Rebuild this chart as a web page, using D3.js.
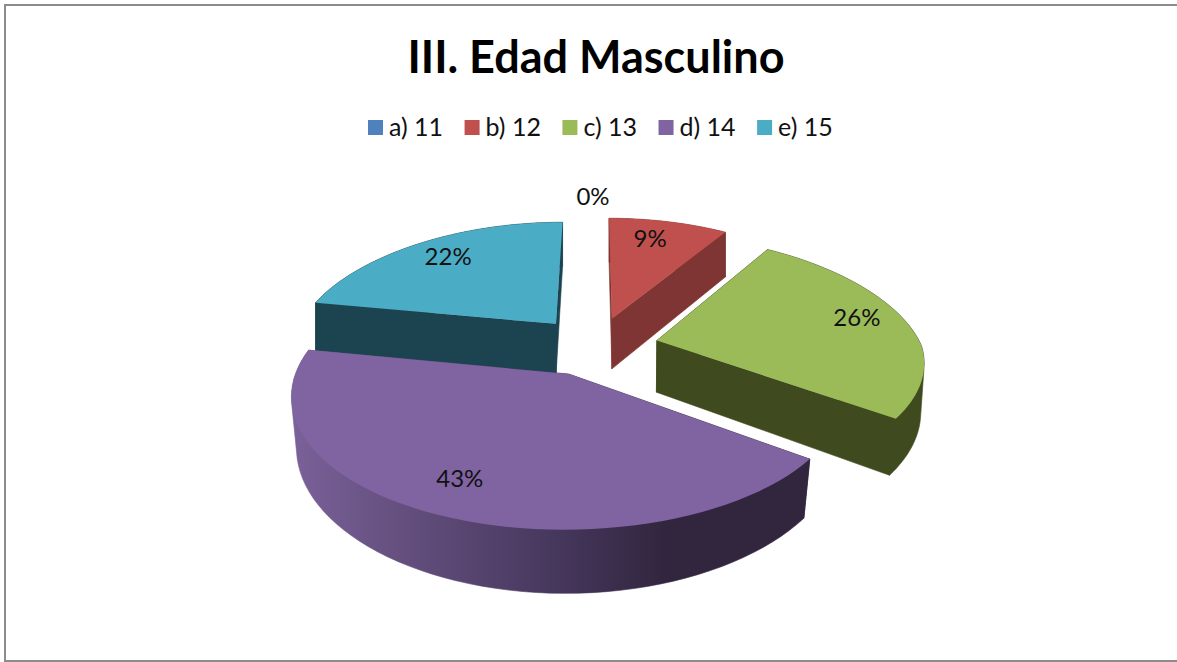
<!DOCTYPE html>
<html><head><meta charset="utf-8">
<script src="https://cdnjs.cloudflare.com/ajax/libs/d3/7.8.5/d3.min.js"></script>
<style>html,body{margin:0;padding:0;background:#fff;overflow:hidden}svg{display:block}text{font-family:Lato,sans-serif;fill:#111}</style>
</head><body><svg id="c" width="1177" height="662"></svg>
<script>
const chartTitle = "III. Edad Masculino";
const categories = ["a) 11","b) 12","c) 13","d) 14","e) 15"];
const values = [0,9,26,43,22];
const topColors = ["#4f81bd","#c0504d","#9bbb59","#8064a2","#4bacc6"];
const sideColors = ["#2a4568","#7f3533","#3f4a1f","url(#purpleSide)","#1c4450"];

const W=1177,H=662;
const labelNudge=[[-2,0],[-7,-3],[9,-5],[-12,1],[0,-3]];
const svg=d3.select("#c");
const cx=595,cy=346,A=264.5,B=123,k=0.15,depth=52,explode=0.24;
const wScale=Y=>1/(1-k*Y);
const project=(X,Y,drop=0)=>{
  const w=wScale(Y);
  const farNarrow=1+0.047*Math.min(Y,0);
  const lowerNarrow=1-0.025*(drop/depth)*Math.max(Y+0.3,0);
  return [cx+A*X*w*farNarrow*lowerNarrow, cy+B*Y*w+drop*w];
};

// frame
svg.append("rect").attr("x",5).attr("y",5).attr("width",W+10).attr("height",H-5.5-0.5)
  .attr("fill","#fff").attr("stroke","#8c8c8c").attr("stroke-width",2);

// gradient for purple rim
const g=svg.append("defs").append("linearGradient").attr("id","purpleSide")
  .attr("gradientUnits","userSpaceOnUse").attr("x1",293).attr("x2",808).attr("y1",0).attr("y2",0);
[[0,"#7a6199"],[0.2,"#65507f"],[0.5,"#47385e"],[0.72,"#32263f"],[1,"#32263f"]]
  .forEach(s=>g.append("stop").attr("offset",s[0]).attr("stop-color",s[1]));

svg.append("text").attr("x",596).attr("y",73).attr("text-anchor","middle")
  .attr("font-size",45).attr("font-weight",700).style("fill","#000").text(chartTitle);

// legend
const legend=svg.append("g");
let lx=368;
categories.forEach((c,i)=>{
  legend.append("rect").attr("x",lx).attr("y",120).attr("width",15).attr("height",15).attr("fill",topColors[i]);
  const t=legend.append("text").attr("x",lx+21).attr("y",136).attr("font-size",25).text(c);
  lx+=21+t.node().getComputedTextLength()+21.5;
});

const arcs=d3.pie().sort(null).startAngle(0).endAngle(2*Math.PI)(values);
const line=d3.line();
const sampleAngles=(a,b)=>d3.range(0,61).map(i=>a+(b-a)*i/60);

function sliceGeom(d){
  const m=(d.startAngle+d.endAngle)/2;
  const ox=explode*Math.sin(m), oy=-explode*Math.cos(m);
  const pt=(th,r=1)=>[ox+r*Math.sin(th), oy-r*Math.cos(th)];
  return {m,ox,oy,pt};
}
const drawOrder=[4,1,2,3];
const pieG=svg.append("g");
drawOrder.forEach(i=>{
  const d=arcs[i];
  const {ox,oy,pt}=sliceGeom(d);
  const rimPts=sampleAngles(d.startAngle,d.endAngle).map(t=>pt(t));
  const apex=[ox,oy];
  const top=[apex,...rimPts].map(p=>project(p[0],p[1]));
  const wall=(p)=>[project(apex[0],apex[1]),project(p[0],p[1]),project(p[0],p[1],depth),project(apex[0],apex[1],depth)];
  const rim=d3.polygonHull([...rimPts.map(p=>project(p[0],p[1])),...rimPts.map(p=>project(p[0],p[1],depth))]);
  const fillSide=sideColors[i];
  [wall(rimPts[0]),wall(rimPts[rimPts.length-1]),rim].forEach(poly=>{
    pieG.append("path").attr("d",line(poly)+"Z").attr("fill",fillSide).attr("stroke",fillSide).attr("stroke-width",0.6);
  });
  pieG.append("path").attr("d",line(top)+"Z").attr("fill",topColors[i]);
});

// labels
arcs.forEach((d,i)=>{
  const {pt}=sliceGeom(d);
  const r=d.value>0?0.77:1.24;
  const p=pt((d.startAngle+d.endAngle)/2,r);
  const s=project(p[0],p[1]);
  svg.append("text").attr("x",s[0]+labelNudge[i][0]).attr("y",s[1]+8+labelNudge[i][1]).attr("text-anchor","middle")
    .attr("font-size",24).text(d.value+"%");
});
</script></body></html>
